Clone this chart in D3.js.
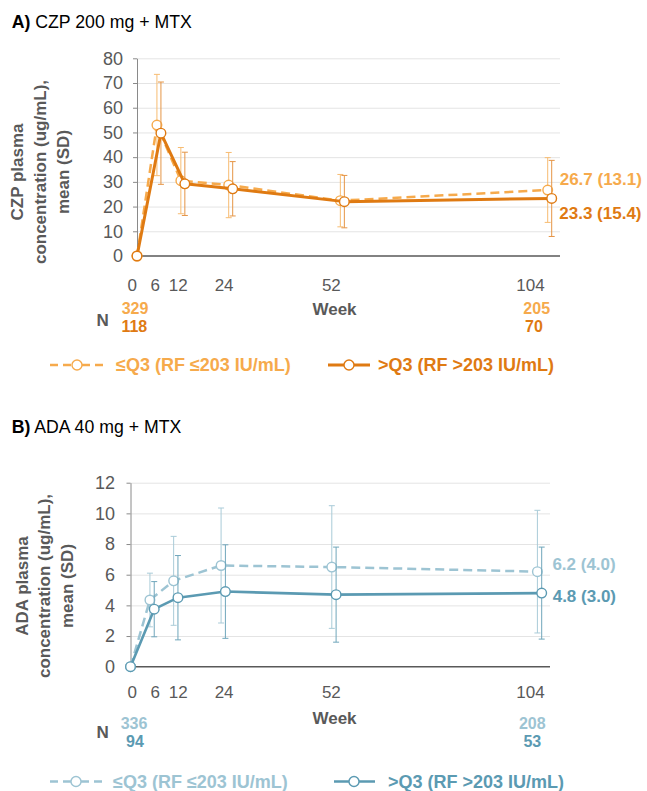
<!DOCTYPE html>
<html>
<head>
<meta charset="utf-8">
<script src="https://cdn.jsdelivr.net/npm/d3@7"></script>
<style>
  html, body { margin: 0; padding: 0; background: #fff; }
  svg { display: block; font-family: "Liberation Sans", Arial, Helvetica, sans-serif; }
</style>
</head>
<body>
<svg id="chart" width="647" height="791"></svg>
<script>
// ---- data ----
const weeks = [0, 6, 12, 24, 52, 104];
const weekTickLabels = ["0", "6", "12", "24", "52", "104"];
const seriesNames = ["≤Q3 (RF ≤203 IU/mL)", ">Q3 (RF >203 IU/mL)"];

// CZP 200 mg + MTX, plasma concentration mean and SD (ug/mL)
const czpLowMean  = [0, 53.0, 30.5, 28.7, 22.4, 26.7];
const czpLowSD    = [0, 20.5, 13.4, 13.2, 10.6, 13.1];
const czpHighMean = [0, 49.7, 29.2, 27.2, 22.0, 23.3];
const czpHighSD   = [0, 20.7, 12.8, 11.0, 10.6, 15.4];

// ADA 40 mg + MTX, plasma concentration mean and SD (ug/mL)
const adaLowMean  = [0, 4.35, 5.6, 6.6, 6.5, 6.2];
const adaLowSD    = [0, 1.75, 2.9, 3.75, 4.0, 4.0];
const adaHighMean = [0, 3.75, 4.5, 4.9, 4.7, 4.8];
const adaHighSD   = [0, 1.8, 2.75, 3.05, 3.1, 3.0];

// patients per group at the first and last visit
const nWeeks   = [0, 104];
const czpLowN  = [329, 205];
const czpHighN = [118, 70];
const adaLowN  = [336, 208];
const adaHighN = [94, 53];

const czpTicks = [0, 10, 20, 30, 40, 50, 60, 70, 80];
const adaTicks = [0, 2, 4, 6, 8, 10, 12];

// ---- drawing ----
const svg = d3.select("#chart");
const FONT = '"Liberation Sans", Arial, Helvetica, sans-serif';
const GREY = "#595959";

function drawPanel(p) {
  const g = svg.append("g");

  // panel title
  const t = g.append("text").attr("x", 11.7).attr("y", p.titleY).attr("dy", "0.35em")
    .attr("font-size", 17.7).attr("fill", "#000");
  t.append("tspan").attr("font-weight", "bold").text(p.tag);
  t.append("tspan").text(" " + p.title);

  const x = d3.scaleLinear().domain([0, 104]).range([p.x0, p.x1]);
  const xLab = d3.scaleLinear().domain([0, 104]).range([131.7, 530]);
  const y = d3.scaleLinear().domain([0, d3.max(p.ticks)]).range([p.yBottom, p.yTop]);

  // horizontal gridlines
  g.append("g").attr("transform", `translate(${p.x0},0)`)
    .call(d3.axisLeft(y).tickValues(p.ticks.slice(1)).tickSize(-(p.right - p.x0)).tickFormat(""))
    .call(a => a.select(".domain").remove())
    .call(a => a.selectAll("line").attr("stroke", "#e4e4e4").attr("stroke-width", 1));

  // y axis
  g.append("g").attr("transform", `translate(${p.x0},0)`)
    .call(d3.axisLeft(y).tickValues(p.ticks).tickSize(4).tickSizeOuter(0).tickPadding(p.tickPad))
    .attr("font-family", FONT).attr("font-size", 18)
    .call(a => a.select(".domain").attr("stroke", "#8a8a8a"))
    .call(a => a.selectAll(".tick line").attr("stroke", "#8a8a8a"))
    .call(a => a.selectAll("text").attr("fill", GREY));

  // x axis baseline
  g.append("line").attr("x1", p.x0).attr("x2", p.right)
    .attr("y1", p.yBottom).attr("y2", p.yBottom)
    .attr("stroke", GREY).attr("stroke-width", 1.5);

  // week labels
  g.append("g").attr("transform", `translate(0,${p.xLabelY})`)
    .call(d3.axisBottom(xLab).tickValues(weeks).tickSize(0).tickPadding(0)
      .tickFormat((d, i) => weekTickLabels[i]))
    .attr("font-family", FONT).attr("font-size", 17)
    .call(a => a.select(".domain").remove())
    .call(a => a.selectAll("text").attr("fill", GREY).attr("y", 0).attr("dy", "0.35em"));

  g.append("text").attr("x", 334.5).attr("y", p.weekY).attr("dy", "0.35em")
    .attr("text-anchor", "middle").attr("font-size", 17).attr("font-weight", "bold")
    .attr("fill", GREY).text("Week");

  // y axis title
  const yt = g.append("g").attr("transform", `translate(${p.yTitleX},${p.yTitleY}) rotate(-90)`);
  p.yTitle.forEach((line, i) => {
    yt.append("text").attr("x", 0).attr("y", i * p.yTitleGap).attr("dy", "0.35em")
      .attr("text-anchor", "middle").attr("font-size", 17).attr("font-weight", "bold")
      .attr("fill", GREY).text(line);
  });

  // series: dashed first, solid on top
  p.series.forEach(s => {
    const px = i => x(weeks[i]) + (weeks[i] > 0 ? s.dodge : 0);

    // error bars
    const eb = g.append("g").attr("stroke", s.barColor).attr("stroke-width", 1);
    s.mean.forEach((m, i) => {
      if (!s.sd[i]) return;
      const cx = px(i), y1 = y(m - s.sd[i]), y2 = y(m + s.sd[i]);
      eb.append("line").attr("x1", cx).attr("x2", cx).attr("y1", y1).attr("y2", y2);
      eb.append("line").attr("x1", cx - 3).attr("x2", cx + 3).attr("y1", y1).attr("y2", y1);
      eb.append("line").attr("x1", cx - 3).attr("x2", cx + 3).attr("y1", y2).attr("y2", y2);
    });

    // mean line
    const line = d3.line().x((d, i) => px(i)).y(d => y(d));
    g.append("path").datum(s.mean).attr("d", line)
      .attr("fill", "none").attr("stroke", s.color).attr("stroke-width", s.width)
      .attr("stroke-dasharray", s.dash || null).attr("stroke-linejoin", "round");

    // markers
    g.append("g").selectAll("circle").data(s.mean).join("circle")
      .attr("cx", (d, i) => px(i)).attr("cy", d => y(d)).attr("r", 4.8)
      .attr("fill", "#fff").attr("stroke", s.color).attr("stroke-width", 1.4);

    // value at week 104
    const last = s.mean.length - 1;
    g.append("text").attr("x", px(last) + s.labelDx).attr("y", y(s.mean[last]) + s.labelDy)
      .attr("dy", "0.35em").attr("font-size", 17).attr("font-weight", "bold")
      .attr("fill", s.color)
      .text(`${s.mean[last].toFixed(1)} (${s.sd[last].toFixed(1)})`);

    // N counts
    s.n.forEach((v, i) => {
      g.append("text").attr("x", xLab(nWeeks[i]) + s.nDx[i]).attr("y", s.nY).attr("dy", "0.35em")
        .attr("text-anchor", "middle").attr("font-size", 16).attr("font-weight", "bold")
        .attr("fill", s.color).text(v);
    });
  });

  g.append("text").attr("x", 102.7).attr("y", p.nLabelY).attr("dy", "0.35em")
    .attr("text-anchor", "middle").attr("font-size", 17).attr("font-weight", "bold")
    .attr("fill", GREY).text("N");

  // legend
  const lg = g.append("g").attr("transform", `translate(0,${p.legendY})`);
  p.series.forEach((s, k) => {
    const L = p.legend[k];
    if (s.dash) {
      lg.append("line").attr("x1", L.x0).attr("x2", L.cx - 5).attr("y1", 0).attr("y2", 0)
        .attr("stroke", s.color).attr("stroke-width", s.width).attr("stroke-dasharray", "8,5");
      lg.append("line").attr("x1", L.cx + 5).attr("x2", L.x1).attr("y1", 0).attr("y2", 0)
        .attr("stroke", s.color).attr("stroke-width", s.width).attr("stroke-dasharray", "8,5");
    } else {
      lg.append("line").attr("x1", L.x0).attr("x2", L.x1).attr("y1", 0).attr("y2", 0)
        .attr("stroke", s.color).attr("stroke-width", s.width);
    }
    lg.append("circle").attr("cx", L.cx).attr("cy", 0).attr("r", 5)
      .attr("fill", "#fff").attr("stroke", s.color).attr("stroke-width", 1.4);
    lg.append("text").attr("x", L.tx).attr("y", 0).attr("dy", "0.35em")
      .attr("font-size", 18).attr("font-weight", "bold").attr("fill", s.color)
      .text(seriesNames[k]);
  });
}

const orangeLight = "#F6AA4C", orangeDark = "#DF7A12";
const tealLight = "#9DC4D3", tealDark = "#5B9AB2";

drawPanel({
  tag: "A)", title: "CZP 200 mg + MTX", titleY: 21.7,
  yTitle: ["CZP plasma", "concentration (ug/mL),", "mean (SD)"],
  yTitleX: 17, yTitleY: 172, yTitleGap: 23,
  x0: 137, x1: 551.7, right: 560, yTop: 58.3, yBottom: 256, ticks: czpTicks, tickPad: 10,
  xLabelY: 285, weekY: 309.3, nLabelY: 320, legendY: 365,
  legend: [{ x0: 50, x1: 104, cx: 77, tx: 116 }, { x0: 328, x1: 370, cx: 349, tx: 378 }],
  series: [
    { mean: czpLowMean, sd: czpLowSD, color: orangeLight, barColor: "#F7BC72", width: 2.5, dash: "9,5",
      dodge: -4, labelDx: 12, labelDy: -10.5, n: czpLowN, nDx: [3.3, 6.7], nY: 308 },
    { mean: czpHighMean, sd: czpHighSD, color: orangeDark, barColor: "#E59546", width: 3,
      dodge: 0, labelDx: 7.6, labelDy: 15, n: czpHighN, nDx: [2.6, 4], nY: 326.5 }
  ]
});

drawPanel({
  tag: "B)", title: "ADA 40 mg + MTX", titleY: 426.7,
  yTitle: ["ADA plasma", "concentration (ug/mL),", "mean (SD)"],
  yTitleX: 21.7, yTitleY: 586, yTitleGap: 22.7,
  x0: 130.5, x1: 541.7, right: 550, yTop: 482.7, yBottom: 666.7, ticks: adaTicks, tickPad: 11.5,
  xLabelY: 691.7, weekY: 718.3, nLabelY: 732.3, legendY: 781.5,
  legend: [{ x0: 50, x1: 104, cx: 76, tx: 113 }, { x0: 334, x1: 375, cx: 354, tx: 388 }],
  series: [
    { mean: adaLowMean, sd: adaLowSD, color: tealLight, barColor: "#A9CBD8", width: 2.5, dash: "9,5",
      dodge: -4.3, labelDx: 15, labelDy: -7.7, n: adaLowN, nDx: [2.3, 2.3], nY: 723 },
    { mean: adaHighMean, sd: adaHighSD, color: tealDark, barColor: "#6FA6BB", width: 2.6,
      dodge: 0, labelDx: 11, labelDy: 2.7, n: adaHighN, nDx: [3.3, 2.3], nY: 741.5 }
  ]
});
</script>
</body>
</html>
